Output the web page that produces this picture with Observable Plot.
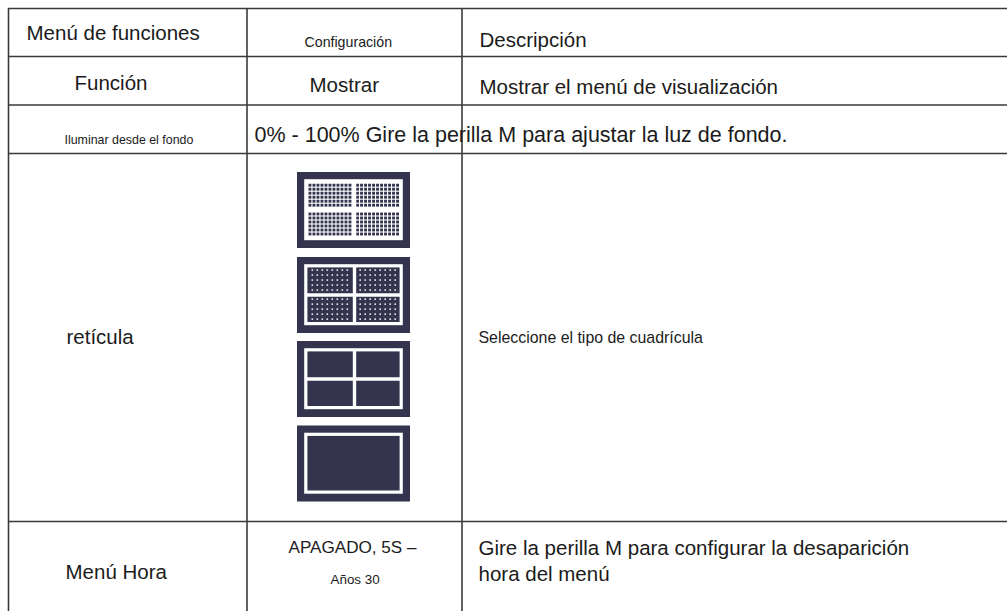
<!DOCTYPE html>
<html>
<head>
<meta charset="utf-8">
<script src="https://cdn.jsdelivr.net/npm/d3@7"></script>
<script src="https://cdn.jsdelivr.net/npm/@observablehq/plot@0.6"></script>
<style>
  html, body { margin: 0; padding: 0; background: #ffffff; }
  #chart svg { display: block; }
</style>
</head>
<body>
<div id="chart"></div>
<script>
// ---------------- data (table content) ----------------
const columnHeaders = ["Menú de funciones", "Configuración", "Descripción"];
const functionNames = ["Función", "Iluminar desde el fondo", "retícula", "Menú Hora"];
const settingTexts = ["Mostrar", "0% - 100% Gire la perilla M para ajustar la luz de fondo.", "APAGADO, 5S –", "Años 30"];
const descriptionTexts = ["Mostrar el menú de visualización", "Seleccione el tipo de cuadrícula", "Gire la perilla M para configurar la desaparición", "hora del menú"];
const gridTypes = ["densa", "puntos", "cruz", "marco"];

// ---------------- layout ----------------
const W = 1007, H = 611;
const colEdges = [8, 246.5, 461.5];
const rowEdges = [8, 56, 104.5, 153, 521];

const textLayout = [
  {src: columnHeaders, i: 0, x: 26, y: 39, size: 20.5},
  {src: columnHeaders, i: 1, x: 304, y: 46, size: 14.2},
  {src: columnHeaders, i: 2, x: 479, y: 46, size: 20.5},
  {src: functionNames, i: 0, x: 74, y: 89, size: 20.5},
  {src: settingTexts, i: 0, x: 309, y: 91, size: 20.5},
  {src: descriptionTexts, i: 0, x: 479, y: 93, size: 20.5},
  {src: functionNames, i: 1, x: 64, y: 143, size: 12.4},
  {src: settingTexts, i: 1, x: 254, y: 141, size: 21.5},
  {src: functionNames, i: 2, x: 66, y: 343, size: 20.5},
  {src: descriptionTexts, i: 1, x: 478, y: 342, size: 15.9},
  {src: functionNames, i: 3, x: 65, y: 578, size: 20.5},
  {src: settingTexts, i: 2, x: 288, y: 552, size: 17.1},
  {src: settingTexts, i: 3, x: 330, y: 583, size: 13.4},
  {src: descriptionTexts, i: 2, x: 478, y: 554, size: 20.5},
  {src: descriptionTexts, i: 3, x: 478, y: 580, size: 20.5}
];
const textCells = textLayout.map(d => ({text: d.src[d.i], x: d.x, y: d.y, size: d.size}));

// grid-type icons
const DARK = "#34344e";
const iconX = 297, iconW = 113, iconH = 76;
const iconTops = [172, 257, 341, 425.5];
const frameInset = 8.8, frameStroke = 3.2;
const crossDX = 57, crossDY = 37.5;

const icons = gridTypes.map((type, k) => ({type, x1: iconX, x2: iconX + iconW, y1: iconTops[k], y2: iconTops[k] + iconH}));
const frames = icons.map(d => ({type: d.type, x1: d.x1 + frameInset, x2: d.x2 - frameInset, y1: d.y1 + frameInset, y2: d.y2 - frameInset - 0.6}));
const crossed = icons.filter(d => d.type !== "marco");
const crossV = crossed.map(d => ({x: d.x1 + crossDX, y1: d.y1 + frameInset, y2: d.y2 - frameInset - 0.6}));
const crossH = crossed.map(d => ({y: d.y1 + crossDY, x1: d.x1 + frameInset, x2: d.x2 - frameInset}));

// quadrants inside frame (for the patterned icons)
function quadrants(d, c) {
  const f = frameStroke / 2;
  const ix1 = d.x1 + frameInset + f, ix2 = d.x2 - frameInset - f;
  const iy1 = d.y1 + frameInset + f, iy2 = d.y2 - frameInset - 0.6 - f;
  const cx = d.x1 + crossDX, cy = d.y1 + crossDY;
  return [
    [ix1, cx - c, iy1, cy - c], [cx + c, ix2, iy1, cy - c],
    [ix1, cx - c, cy + c, iy2], [cx + c, ix2, cy + c, iy2]
  ];
}
function gridCells(q, pitch, size, pad) {
  const [x1, x2, y1, y2] = q;
  const nx = Math.floor((x2 - x1 - 2 * pad + (pitch - size)) / pitch);
  const ny = Math.floor((y2 - y1 - 2 * pad + (pitch - size)) / pitch);
  const ox = x1 + (x2 - x1 - (nx * pitch - (pitch - size))) / 2;
  const oy = y1 + (y2 - y1 - (ny * pitch - (pitch - size))) / 2;
  const out = [];
  for (let a = 0; a < nx; a++) for (let b = 0; b < ny; b++)
    out.push({x1: ox + a * pitch, x2: ox + a * pitch + size, y1: oy + b * pitch, y2: oy + b * pitch + size});
  return out;
}
const denseIcon = icons.find(d => d.type === "densa");
const dotIcon = icons.find(d => d.type === "puntos");
const denseFill = [frames.find(d => d.type === "densa")];
const denseSquares = quadrants(denseIcon, 1.5).flatMap(q => gridCells(q, 4, 2.9, 0.5));
const dotSquares = quadrants(dotIcon, 1.8).flatMap(q => gridCells(q, 5, 1.6, 1.8));

// ---------------- chart ----------------
const chart = Plot.plot({
  width: W,
  height: H,
  margin: 0,
  x: {domain: [0, W], range: [0, W], axis: null},
  y: {domain: [0, H], range: [0, H], axis: null},
  style: {fontFamily: "'Liberation Sans', Arial, sans-serif", background: "#ffffff", color: "#1b1b1b"},
  marks: [
    // icons
    Plot.rect(icons, {x1: "x1", x2: "x2", y1: "y1", y2: "y2", fill: DARK}),
    Plot.rect(denseFill, {x1: "x1", x2: "x2", y1: "y1", y2: "y2", fill: "#ffffff"}),
    Plot.rect(denseSquares, {x1: "x1", x2: "x2", y1: "y1", y2: "y2", fill: DARK}),
    Plot.rect(dotSquares, {x1: "x1", x2: "x2", y1: "y1", y2: "y2", fill: "#e8e8ee"}),
    Plot.rect(frames, {x1: "x1", x2: "x2", y1: "y1", y2: "y2", fill: "none", stroke: "#ffffff", strokeWidth: frameStroke}),
    Plot.ruleX(crossV, {x: "x", y1: "y1", y2: "y2", stroke: "#ffffff", strokeWidth: 3.4}),
    Plot.ruleY(crossH, {y: "y", x1: "x1", x2: "x2", stroke: "#ffffff", strokeWidth: 3.4}),
    // table lines
    Plot.ruleY(rowEdges, {y: d => d, x1: () => colEdges[0], x2: () => W, stroke: "#3a3a3a", strokeWidth: 1.6}),
    Plot.ruleX(colEdges, {x: d => d, y1: () => rowEdges[0], y2: () => H, stroke: "#3a3a3a", strokeWidth: 1.6}),
    // texts
    Plot.text(textCells, {x: "x", y: "y", text: "text", fontSize: "size", textAnchor: "start", lineAnchor: "bottom", fill: "#1b1b1b"})
  ]
});
document.getElementById("chart").appendChild(chart);
</script>
</body>
</html>
